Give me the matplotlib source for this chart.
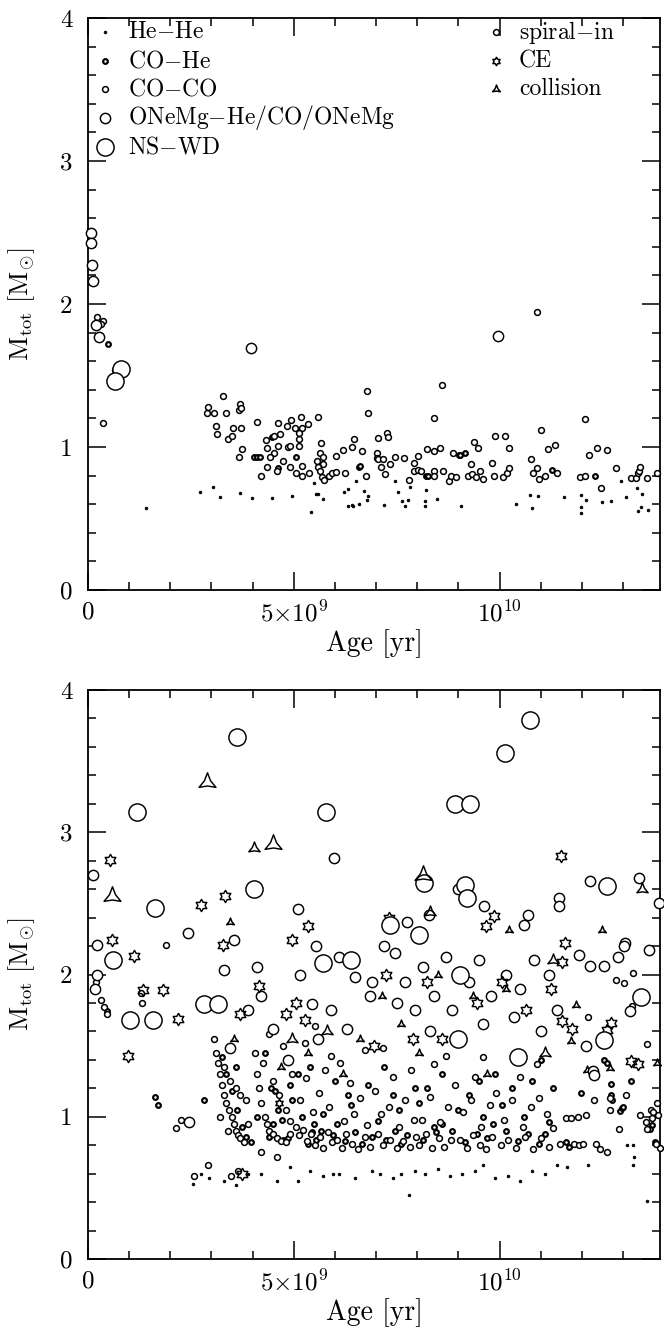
import numpy as np
import matplotlib
matplotlib.use("Agg")
import matplotlib.pyplot as plt
from matplotlib.path import Path

plt.rcParams['mathtext.fontset'] = 'cm'
plt.rcParams['font.family'] = ['cmr10', 'DejaVu Serif']
plt.rcParams['axes.unicode_minus'] = False
plt.rcParams['axes.formatter.use_mathtext'] = True

# ---------------- data (age in Gyr, total mass in Msun) ----------------
TYPE_NAMES = ["He$-$He", "CO$-$He", "CO$-$CO", "ONeMg$-$He/CO/ONeMg", "NS$-$WD"]
CHANNEL_NAMES = ["spiral$-$in", "CE", "collision"]

# ---- top panel (all spiral-in) ----
top_hehe_age = [1.41, 2.73, 3.04, 3.21, 3.70, 3.99, 4.48, 4.95, 5.43, 5.50, 5.55, 5.60, 5.71, 6.21, 6.33, 6.33,
                6.42, 6.45, 6.58, 6.52, 6.70, 6.80, 6.78, 7.20, 7.47, 7.53, 7.63, 7.70, 7.78, 7.83, 8.18,
                8.20, 8.22, 8.49, 9.07, 10.39, 10.75, 10.80, 10.93, 11.56, 11.97, 11.99, 11.97, 12.11,
                12.48, 12.70, 12.96, 13.08, 13.33, 13.46, 13.43, 13.36, 13.62]
top_hehe_mass = [0.57, 0.685, 0.72, 0.65, 0.68, 0.64, 0.64, 0.66, 0.548, 0.746, 0.67, 0.67, 0.634, 0.683, 0.706, 0.587,
                 0.594, 0.59, 0.60, 0.764, 0.694, 0.66, 0.63, 0.594, 0.764, 0.687, 0.62, 0.59, 0.63, 0.72, 0.585,
                 0.62, 0.70, 0.636, 0.587, 0.60, 0.664, 0.57, 0.66, 0.648, 0.664, 0.58, 0.54, 0.63,
                 0.613, 0.624, 0.764, 0.648, 0.715, 0.67, 0.58, 0.55, 0.56]

top_cohe_age = [0.49, 4.04, 4.10, 4.18, 4.47, 5.06, 6.58, 6.62, 8.22, 8.26, 9.01, 9.05, 9.15, 11.27, 12.33, 4.62]
top_cohe_mass = [1.72, 0.932, 0.932, 0.932, 1.07, 0.93, 0.862, 0.865, 0.80, 0.80, 0.944, 0.944, 0.956, 0.84, 0.80, 0.85]

top_coco_age = [0.22, 0.36, 0.31, 0.66, 0.75, 0.36, 3.28, 2.91, 2.90, 3.05, 3.36, 3.70, 3.66, 3.72, 4.10,
                3.11, 3.13, 3.52, 3.72, 3.40, 3.50, 3.74, 3.68, 4.33, 4.35, 4.51, 4.61, 4.66, 4.61, 4.53,
                4.43, 4.83, 4.94, 4.85, 4.91, 5.04, 5.17, 5.20, 5.34, 5.12, 5.12, 5.13, 5.59, 5.67, 5.64,
                5.70, 6.03, 6.20, 6.41, 6.47, 6.66, 6.80, 6.77, 7.04, 7.02, 7.02, 5.72, 5.20, 5.20, 5.38,
                5.56, 5.58, 5.64, 5.69, 5.74, 5.85, 5.93, 6.03, 6.24, 6.76, 7.05, 7.17, 7.13, 7.21, 7.27,
                7.28, 7.34, 7.45, 7.69, 7.79, 7.93, 8.03, 7.92, 8.01, 8.09, 8.23, 8.42, 8.42, 8.56, 8.40,
                8.40, 8.63, 8.60, 8.77, 8.81, 8.95, 8.86, 9.38, 9.48, 9.30, 9.24, 9.33, 9.44, 9.52, 9.59,
                9.82, 9.87, 9.90, 10.13, 10.24, 10.09, 10.18, 10.24, 10.77, 10.81, 10.92, 10.97, 11.10,
                11.02, 11.18, 11.34, 11.40, 12.08, 11.95, 12.08, 12.18, 12.38, 12.62, 12.47, 12.83, 13.19,
                13.31, 13.36, 13.39, 13.41, 13.59, 13.82, 10.91, 4.35, 4.60, 4.75, 4.90, 5.05, 4.20]
top_coco_mass = [1.91, 1.88, 1.86, 1.54, 1.50, 1.17, 1.36, 1.28, 1.24, 1.24, 1.24, 1.30, 1.26, 1.27, 1.175,
                 1.147, 1.09, 1.135, 1.13, 1.054, 1.077, 0.986, 0.928, 1.05, 0.99, 1.077, 1.17, 1.09, 1.01, 0.956,
                 0.93, 1.15, 1.19, 1.00, 1.01, 1.13, 1.21, 1.135, 1.16, 1.096, 1.054, 1.01, 1.21, 1.03, 0.956,
                 0.928, 0.94, 0.98, 1.00, 1.054, 0.975, 1.236, 1.39, 1.06, 0.956, 0.92, 0.88, 0.87, 0.80, 0.816,
                 0.90, 0.86, 0.83, 0.79, 0.77, 0.80, 0.816, 0.825, 0.82, 0.80, 0.914, 0.914, 0.862, 0.81, 1.10,
                 1.068, 0.88, 0.932, 0.92, 0.77, 0.89, 0.937, 0.83, 0.84, 0.83, 0.988, 1.205, 0.972, 0.995, 0.834,
                 0.797, 0.83, 1.434, 0.764, 0.797, 0.79, 0.96, 1.037, 0.993, 0.88, 0.80, 0.81, 0.79, 0.83, 0.774,
                 0.886, 0.80, 1.08, 1.08, 0.995, 0.79, 0.82, 0.85, 0.916, 0.816, 0.85, 0.778, 0.797,
                 1.117, 0.988, 1.014, 0.82, 1.196, 0.788, 0.80, 0.946, 0.995, 0.979, 0.71, 0.85, 0.78,
                 0.78, 0.816, 0.834, 0.862, 0.786, 0.82, 1.946, 0.86, 0.83, 0.90, 0.86, 0.82, 0.80]

top_onemg_age = [0.08, 0.08, 0.10, 0.13, 0.19, 0.27, 3.97, 9.97]
top_onemg_mass = [2.50, 2.43, 2.27, 2.16, 1.85, 1.77, 1.69, 1.776]

top_nswd_age = [0.80, 0.66]
top_nswd_mass = [1.545, 1.46]

# ---- bottom panel: (age [Gyr], mass) pairs per type and channel ----
bot_nswd_spiral = [(3.63, 3.67), (1.20, 3.14), (5.78, 3.14), (1.63, 2.465), (4.04, 2.60), (10.75, 3.79),
                   (10.13, 3.555), (8.93, 3.20), (9.29, 3.20), (8.16, 2.64), (12.62, 2.62), (9.17, 2.63),
                   (9.20, 2.535), (7.33, 2.35), (8.05, 2.28), (0.60, 2.10), (1.02, 1.68), (1.58, 1.68),
                   (2.82, 1.79), (3.16, 1.79), (5.70, 2.08), (6.40, 2.10), (9.03, 2.00), (9.00, 1.55),
                   (10.44, 1.42), (13.45, 1.84), (12.54, 1.54)]
bot_nswd_coll = [(2.89, 3.35), (4.49, 2.92), (0.58, 2.55), (8.14, 2.70)]

bot_onemg_spiral = [(5.99, 2.82), (0.13, 2.70), (5.10, 2.46), (2.44, 2.29), (0.21, 2.21), (3.54, 2.24),
                    (12.20, 2.655), (13.39, 2.68), (8.99, 2.60), (9.63, 2.48), (10.70, 2.42), (10.59, 2.35),
                    (11.44, 2.535), (11.44, 2.48), (7.74, 2.37), (13.88, 2.50), (13.05, 2.22), (8.28, 2.42),
                    (0.22, 2.00), (0.18, 1.90), (2.46, 0.96), (3.45, 1.48), (3.90, 1.75), (3.30, 2.03),
                    (4.20, 1.85), (4.50, 1.62), (4.85, 1.40), (4.10, 2.05), (5.16, 2.00), (5.45, 1.79),
                    (5.55, 2.20), (5.60, 1.55), (5.90, 1.75), (6.10, 2.12), (6.50, 1.98), (6.85, 1.85),
                    (6.30, 1.62), (6.90, 1.95), (7.20, 2.20), (7.45, 2.15), (7.70, 1.95), (7.50, 1.80),
                    (7.95, 1.75), (8.15, 2.05), (8.40, 1.85), (8.70, 2.12), (8.30, 1.60), (8.85, 1.75),
                    (9.25, 1.95), (9.50, 2.10), (9.80, 1.85), (9.60, 1.65), (10.15, 2.00), (10.50, 1.90),
                    (10.85, 2.10), (11.20, 2.00), (10.35, 1.70), (11.00, 1.60), (11.40, 1.75),
                    (12.19, 2.06), (12.54, 2.06), (13.03, 2.20), (12.88, 2.12), (13.63, 2.17), (11.93, 2.14),
                    (13.16, 1.745), (12.09, 1.50), (12.27, 1.32), (12.30, 1.29)]
bot_onemg_ce = [(0.535, 2.805), (2.74, 2.49), (3.32, 2.55), (5.34, 2.34), (0.58, 2.24), (3.29, 2.21),
                (4.96, 2.24), (11.50, 2.83), (9.86, 2.41), (9.66, 2.34), (7.31, 2.395), (11.58, 2.22),
                (1.12, 2.13), (1.34, 1.89), (1.82, 1.89), (0.97, 1.43), (2.19, 1.69), (3.75, 0.60),
                (3.70, 1.72), (4.15, 1.92), (4.80, 1.72), (5.05, 1.80), (5.28, 1.68), (7.25, 2.00),
                (7.90, 1.55), (8.25, 1.95), (8.60, 1.55), (9.45, 1.80), (10.05, 1.95), (10.65, 1.75),
                (11.25, 1.90), (6.95, 1.50), (11.52, 2.09), (11.75, 1.62), (12.70, 1.66), (12.62, 1.61),
                (13.20, 1.39), (13.37, 1.37), (13.47, 1.84), (11.52, 1.67)]
bot_onemg_coll = [(4.04, 2.89), (13.46, 2.60), (8.32, 2.44), (4.95, 1.55), (5.80, 1.60), (11.10, 1.45),
                  (11.30, 2.10)]

bot_coco_spiral = [(1.90, 2.21), (0.20, 1.95), (0.32, 1.82), (0.38, 1.77), (0.45, 1.72), (1.29, 1.87),
                   (1.31, 1.80), (2.14, 0.92), (2.25, 0.98), (2.58, 0.58), (2.92, 0.66),
                   (3.05, 1.55), (3.10, 1.45), (3.15, 1.38), (3.20, 1.30), (3.25, 1.22), (3.30, 1.15),
                   (3.35, 1.10), (3.42, 1.05), (3.50, 1.00), (3.55, 0.95), (3.60, 0.90), (3.65, 0.87),
                   (3.70, 0.85), (3.78, 0.82), (3.30, 1.35), (3.45, 1.25), (3.60, 1.20), (3.70, 1.15),
                   (3.85, 1.12), (3.90, 0.95), (3.40, 0.90), (3.20, 1.00), (3.48, 0.58), (3.65, 0.62),
                   (4.05, 1.45), (4.10, 1.30), (4.15, 1.20), (4.20, 1.10), (4.30, 1.00), (4.35, 0.95),
                   (4.40, 0.90), (4.50, 0.88), (4.60, 0.85), (4.70, 0.83), (4.80, 0.82), (4.25, 1.38),
                   (4.50, 1.25), (4.65, 1.15), (4.80, 1.05), (4.90, 0.97), (4.95, 1.30), (4.40, 1.58),
                   (4.75, 1.50), (4.20, 0.75), (4.60, 0.72), (4.90, 0.88),
                   (5.05, 0.93), (5.12, 0.87), (5.22, 0.91), (5.31, 0.83), (5.42, 0.88), (5.52, 0.80),
                   (5.63, 0.86), (5.71, 0.78), (5.83, 0.89), (5.92, 0.82), (5.15, 1.12), (5.30, 1.27),
                   (5.47, 1.03), (5.62, 1.17), (5.76, 1.33), (5.86, 1.07), (5.27, 1.52), (5.52, 1.64),
                   (5.91, 1.43),
                   (6.04, 0.84), (6.17, 0.78), (6.28, 0.88), (6.41, 0.81), (6.56, 0.77), (6.72, 0.86),
                   (6.86, 0.79), (6.22, 0.97), (6.46, 1.02), (6.61, 1.13), (6.79, 0.94), (6.36, 1.24),
                   (6.97, 1.18), (6.12, 1.38), (6.72, 1.47),
                   (7.04, 0.88), (7.18, 0.80), (7.33, 0.84), (7.52, 0.78), (7.66, 0.83), (7.82, 0.79),
                   (7.97, 0.86), (7.12, 1.02), (7.31, 1.07), (7.56, 0.93), (7.71, 1.12), (7.91, 0.98),
                   (7.42, 1.28), (7.86, 1.33), (7.16, 1.48),
                   (8.04, 0.80), (8.21, 0.88), (8.36, 0.78), (8.52, 0.85), (8.66, 0.79), (8.81, 0.84),
                   (8.11, 0.98), (8.31, 1.14), (8.56, 0.96), (8.76, 1.07), (8.91, 1.22), (8.42, 1.37),
                   (8.71, 1.43),
                   (9.04, 0.84), (9.21, 0.78), (9.36, 0.87), (9.52, 0.80), (9.66, 0.77), (9.81, 0.86),
                   (9.11, 1.03), (9.31, 1.12), (9.56, 0.93), (9.76, 1.08), (9.91, 1.17), (9.41, 1.28),
                   (9.61, 1.42),
                   (10.04, 0.80), (10.21, 0.84), (10.41, 0.78), (10.61, 0.86), (10.81, 0.77), (11.01, 0.85),
                   (11.21, 0.79), (10.11, 0.98), (10.31, 1.12), (10.56, 0.93), (10.76, 1.07), (10.96, 1.13),
                   (11.16, 1.02), (11.31, 0.92), (10.51, 1.28), (10.91, 1.37),
                   (12.15, 1.70), (13.23, 1.78), (13.58, 1.51), (12.30, 1.12), (12.68, 1.13), (12.68, 1.05),
                   (13.07, 1.15), (13.82, 1.10), (13.84, 1.01), (13.67, 1.05), (13.74, 1.03), (13.71, 0.99),
                   (12.90, 0.915), (13.41, 1.01), (13.55, 0.96), (13.59, 0.915), (13.90, 0.78), (13.80, 0.81),
                   (11.48, 0.81), (11.81, 0.81), (11.93, 0.80), (12.04, 0.81), (12.34, 0.81), (12.44, 0.775),
                   (12.60, 0.75), (11.61, 0.99), (11.74, 0.99), (11.91, 1.00), (12.09, 1.01), (13.25, 2.01),
                   (12.82, 1.96), (13.03, 1.94)]
bot_coco_ce = [(4.65, 1.10)]
bot_coco_coll = [(3.44, 2.37), (10.24, 2.31), (12.50, 2.31), (4.70, 1.35), (5.35, 1.45), (6.60, 1.55),
                 (6.20, 1.30), (7.60, 1.65), (7.15, 1.85), (8.50, 2.00), (8.05, 1.45), (9.70, 1.30),
                 (9.35, 1.85), (10.15, 1.90), (11.87, 1.785), (11.73, 1.53), (12.68, 1.34), (13.82, 1.375),
                 (12.13, 1.33), (3.55, 1.55)]

bot_cohe_spiral = [(1.63, 1.14), (1.70, 1.08), (0.46, 1.74), (2.82, 1.12),
                   (3.35, 1.30), (3.50, 1.18), (3.62, 1.05), (3.75, 0.93), (3.85, 0.86), (3.95, 0.82),
                   (3.25, 1.42), (4.45, 1.20), (4.55, 1.18), (4.62, 1.05), (4.72, 0.98), (4.85, 0.85),
                   (4.90, 1.22), (4.30, 1.45), (4.40, 0.86), (4.75, 0.84), (4.95, 1.12),
                   (5.35, 0.81), (5.45, 0.89), (5.55, 0.84), (5.65, 0.90), (5.20, 1.00), (5.70, 1.02),
                   (5.40, 1.35), (5.95, 0.87), (6.25, 0.83), (6.50, 0.89), (6.65, 0.81), (6.90, 0.86),
                   (6.40, 1.08), (6.80, 1.22), (7.25, 0.84), (7.45, 0.90), (7.60, 0.81), (7.75, 0.87),
                   (7.40, 1.15), (7.95, 1.20), (8.15, 0.84), (8.45, 0.89), (8.60, 0.95), (8.25, 1.20),
                   (8.85, 0.90), (9.15, 0.82), (9.45, 0.88), (9.70, 0.85), (9.25, 1.15), (9.85, 0.95),
                   (9.50, 1.25), (10.15, 0.90), (10.45, 0.83), (10.70, 0.88), (10.95, 0.81), (11.10, 0.88),
                   (10.30, 1.20), (11.30, 1.20),
                   (5.48, 0.95), (6.05, 0.95), (6.33, 1.15), (7.05, 0.97), (7.55, 1.05), (8.05, 1.10),
                   (8.40, 0.93), (9.00, 1.05), (9.60, 1.00), (10.05, 1.08), (10.60, 1.00), (11.20, 0.96),
                   (3.60, 1.35), (4.10, 1.00), (4.50, 0.95), (5.10, 1.30), (6.00, 1.25), (7.20, 1.35),
                   (8.60, 1.30), (9.90, 1.30), (10.80, 1.25), (11.00, 1.40),
                   (12.54, 1.40), (12.60, 1.375), (11.99, 1.17), (12.72, 1.23), (12.72, 1.15), (12.73, 1.12),
                   (13.19, 1.25), (12.94, 1.04), (12.98, 1.06), (13.00, 1.07), (13.71, 0.94), (13.66, 0.915),
                   (11.61, 0.82), (11.69, 0.79), (13.78, 0.82)]

bot_hehe_spiral = [(2.55, 0.53), (2.75, 0.60), (2.95, 0.57), (3.30, 0.55), (3.60, 0.52), (3.90, 0.60),
                   (4.20, 0.60), (4.60, 0.55), (4.90, 0.65), (5.10, 0.55), (5.40, 0.62), (5.70, 0.58),
                   (5.95, 0.60), (6.10, 0.60), (6.50, 0.57), (6.90, 0.62), (7.10, 0.60), (7.40, 0.57),
                   (7.60, 0.60), (7.80, 0.45), (7.95, 0.62), (8.20, 0.60), (8.50, 0.63), (8.80, 0.58),
                   (9.10, 0.60), (9.40, 0.62), (9.60, 0.66), (9.90, 0.57), (10.20, 0.58), (10.50, 0.55),
                   (10.80, 0.62), (11.10, 0.60), (11.40, 0.66), (11.65, 0.65), (12.16, 0.66), (13.11, 0.80),
                   (13.25, 0.80), (13.27, 0.72), (13.25, 0.66), (13.58, 0.41)]

X_MAX_GYR = 13.9
Y_MAX = 4.0


# ---------------- marker shapes ----------------
def hexagram():
    verts = []
    for i in range(12):
        ang = np.pi / 2 + i * np.pi / 6
        r = 1.0 if i % 2 == 0 else 1 / np.sqrt(3)
        verts.append((r * np.cos(ang), r * np.sin(ang)))
    verts.append(verts[0])
    codes = [Path.MOVETO] + [Path.LINETO] * 11 + [Path.CLOSEPOLY]
    return Path(verts, codes)


def tristar():
    verts = []
    for i in range(6):
        ang = np.pi / 2 + i * np.pi / 3
        r = 1.0 if i % 2 == 0 else 0.36
        verts.append((r * np.cos(ang), r * np.sin(ang)))
    verts.append(verts[0])
    codes = [Path.MOVETO] + [Path.LINETO] * 5 + [Path.CLOSEPOLY]
    return Path(verts, codes)


MARKERS = {"s": "o", "c": hexagram(), "x": tristar()}
SIZES = {"s": [1.9, 3.4, 4.2, 7.4, 12.4],
         "c": [3.0, 4.6, 6.0, 8.8, 13.0],
         "x": [3.4, 5.0, 6.4, 9.4, 14.0]}
EDGEW = [0.6, 1.55, 1.1, 1.05, 1.05]


def draw(ax, ages, masses, tcode, ch="s"):
    ages = np.asarray(ages, float)
    masses = np.asarray(masses, float)
    if ages.size == 0:
        return
    fc = "black" if tcode == 0 else ("white" if ch == "s" else "none")
    ax.plot(ages * 1e9, masses, linestyle="none", marker=MARKERS[ch],
            markersize=SIZES[ch][tcode], markerfacecolor=fc,
            markeredgecolor="black", markeredgewidth=EDGEW[tcode], clip_on=False, zorder=3)


def draw_pairs(ax, pairs, tcode, ch):
    if not pairs:
        return
    arr = np.array(pairs, float)
    draw(ax, arr[:, 0], arr[:, 1], tcode, ch)


def style(ax):
    ax.set_xlim(0, X_MAX_GYR * 1e9)
    ax.set_ylim(0, Y_MAX)
    ax.set_xticks([0, 5e9, 1e10])
    ax.set_xticklabels(["0", r"$5{\times}10^9$", r"$10^{10}$"])
    ax.set_xticks(np.arange(0, 14e9, 1e9), minor=True)
    ax.set_yticks([0, 1, 2, 3, 4])
    ax.set_yticklabels(["0", "1", "2", "3", "4"])
    ax.set_yticks(np.arange(0, 4.01, 0.2), minor=True)
    ax.tick_params(which="both", direction="in", top=True, right=True, width=1.1, labelsize=18)
    ax.tick_params(which="major", length=13)
    ax.tick_params(which="minor", length=6)
    ax.tick_params(axis="x", which="major", pad=8)
    ax.tick_params(axis="y", which="major", pad=11)
    for s in ax.spines.values():
        s.set_linewidth(1.3)
    ax.set_xlabel("Age [yr]", fontsize=20)
    ax.set_ylabel(r"$\mathrm{M_{tot}}\ [\mathrm{M}_{\odot}]$", fontsize=19)
    ax.xaxis.set_label_coords(0.5, -0.068)
    ax.yaxis.set_label_coords(-0.089, 0.5)


fig = plt.figure(figsize=(6.64, 13.33), dpi=100)
ax1 = fig.add_axes([88 / 664, 1 - 590 / 1333, 572 / 664, 572 / 1333])
ax2 = fig.add_axes([88 / 664, 1 - 1259 / 1333, 572 / 664, 569 / 1333])

draw(ax1, top_hehe_age, top_hehe_mass, 0)
draw(ax1, top_cohe_age, top_cohe_mass, 1)
draw(ax1, top_coco_age, top_coco_mass, 2)
draw(ax1, top_onemg_age, top_onemg_mass, 3)
draw(ax1, top_nswd_age, top_nswd_mass, 4)

draw_pairs(ax2, bot_hehe_spiral, 0, "s")
draw_pairs(ax2, bot_cohe_spiral, 1, "s")
draw_pairs(ax2, bot_coco_spiral, 2, "s")
draw_pairs(ax2, bot_coco_ce, 2, "c")
draw_pairs(ax2, bot_coco_coll, 2, "x")
draw_pairs(ax2, bot_onemg_spiral, 3, "s")
draw_pairs(ax2, bot_onemg_ce, 3, "c")
draw_pairs(ax2, bot_onemg_coll, 3, "x")
draw_pairs(ax2, bot_nswd_spiral, 4, "s")
draw_pairs(ax2, bot_nswd_coll, 4, "x")

for ax in (ax1, ax2):
    style(ax)

# legend in the top panel
leg_rows_y = [0.9755, 0.9248, 0.8759, 0.8252, 0.7745]
for i, name in enumerate(TYPE_NAMES):
    ax1.plot([0.0297], [leg_rows_y[i]], transform=ax1.transAxes, linestyle="none", marker="o",
             markersize=SIZES["s"][i], markerfacecolor="black" if i == 0 else "white",
             markeredgecolor="black", markeredgewidth=EDGEW[i], clip_on=False)
    ax1.text(0.070, leg_rows_y[i], name, transform=ax1.transAxes, fontsize=17, va="center", ha="left")
for i, (name, ch) in enumerate(zip(CHANNEL_NAMES, "scx")):
    ax1.plot([0.713], [leg_rows_y[i]], transform=ax1.transAxes, linestyle="none", marker=MARKERS[ch],
             markersize=SIZES[ch][2], markerfacecolor="none", markeredgecolor="black",
             markeredgewidth=1.1, clip_on=False)
    ax1.text(0.7535, leg_rows_y[i], name, transform=ax1.transAxes, fontsize=17, va="center", ha="left")

fig.savefig("out.png", dpi=100)
